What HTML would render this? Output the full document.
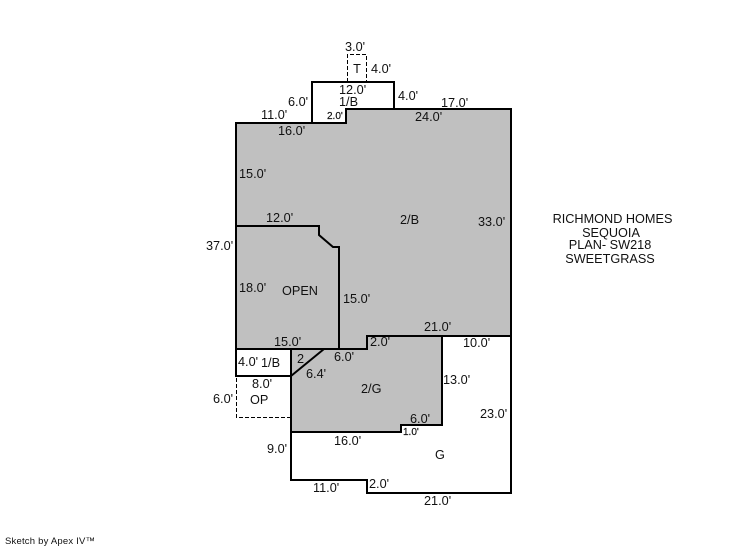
<!DOCTYPE html>
<html><head><meta charset="utf-8"><style>
html,body{margin:0;padding:0;background:#fff}
svg{display:block}
text{font-family:"Liberation Sans",Arial,sans-serif;font-size:12.7px;fill:#111}
.s{font-size:10px;fill:#111;stroke:#111;stroke-width:.2px}
.c{text-anchor:middle}
</style></head><body>
<svg width="746" height="547" viewBox="0 0 746 547" xmlns="http://www.w3.org/2000/svg">
<rect width="746" height="547" fill="#fff"/>
<path d="M236 123H346V109H511V336H367V349H236Z" fill="#c0c0c0"/>
<path d="M291 349H367V336H442V425H401V432H291Z" fill="#c0c0c0"/>
<g fill="none" stroke="#000" stroke-width="2">
<path d="M236 123H346V109H511V336H367V349H236Z"/>
<path d="M236 226H319V235L333 247H339V349"/>
<path d="M236 349H291V376H236Z"/>
<path d="M291 376L324 349"/>
<path d="M312 123V82H394V109"/>
<path d="M291 376V480H367V493H511V336"/>
<path d="M442 336V425H401V432H291"/>
</g>
<g fill="none" stroke="#000" stroke-width="1" stroke-dasharray="4 2">
<path d="M347.5 82V54.500H366.500V82"/>
<path d="M236.500 378V417.500H290"/>
</g>
<text x="345" y="51">3.0'</text>
<text x="357" y="73" class="c">T</text>
<text x="371" y="73">4.0'</text>
<text x="339" y="94">12.0'</text>
<text x="339" y="106">1/B</text>
<text x="288" y="106">6.0'</text>
<text x="398" y="100">4.0'</text>
<text x="441" y="107">17.0'</text>
<text x="261" y="119">11.0'</text>
<text class="s" x="327" y="119">2.0'</text>
<text x="415" y="121">24.0'</text>
<text x="278" y="135">16.0'</text>
<text x="239" y="178">15.0'</text>
<text x="266" y="222">12.0'</text>
<text x="400" y="224">2/B</text>
<text x="478" y="226">33.0'</text>
<text x="206" y="250">37.0'</text>
<text x="239" y="292">18.0'</text>
<text x="282" y="295">OPEN</text>
<text x="343" y="303">15.0'</text>
<text x="274" y="346">15.0'</text>
<text x="424" y="331">21.0'</text>
<text x="370" y="346">2.0'</text>
<text x="463" y="347">10.0'</text>
<text x="334" y="361">6.0'</text>
<text x="297" y="363">2</text>
<text x="238" y="366">4.0'</text>
<text x="261" y="367">1/B</text>
<text x="306" y="378">6.4'</text>
<text x="443" y="384">13.0'</text>
<text x="361" y="393">2/G</text>
<text x="252" y="388">8.0'</text>
<text x="250" y="404">OP</text>
<text x="213" y="403">6.0'</text>
<text x="480" y="418">23.0'</text>
<text x="410" y="423">6.0'</text>
<text class="s" x="403" y="435">1.0'</text>
<text x="334" y="445">16.0'</text>
<text x="267" y="453">9.0'</text>
<text x="435" y="459">G</text>
<text x="313" y="492">11.0'</text>
<text x="369" y="488">2.0'</text>
<text x="424" y="505">21.0'</text>
<text x="612.500" y="223" class="c">RICHMOND HOMES</text>
<text x="611" y="237" class="c">SEQUOIA</text>
<text x="610" y="249" class="c">PLAN- SW218</text>
<text x="610" y="263" class="c">SWEETGRASS</text>
<text x="5" y="544" style="font-size:9.5px;letter-spacing:.2px">Sketch by Apex IV™</text>
</svg>
</body></html>
